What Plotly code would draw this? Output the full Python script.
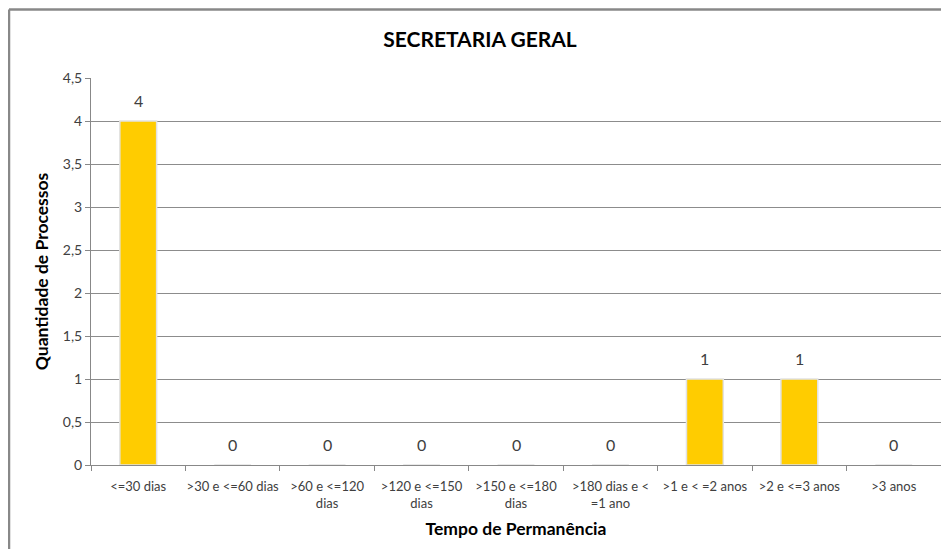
import plotly.graph_objects as go

categories = ["<=30 dias", ">30 e <=60 dias", ">60 e <=120<br>dias", ">120 e <=150<br>dias",
              ">150 e <=180<br>dias", ">180 dias e <<br>=1 ano", ">1 e < =2 anos",
              ">2 e <=3 anos", ">3 anos"]
values = [4, 0, 0, 0, 0, 0, 1, 1, 0]
y_ticks = [0, 0.5, 1, 1.5, 2, 2.5, 3, 3.5, 4, 4.5]
y_tick_labels = ["0", "0,5", "1", "1,5", "2", "2,5", "3", "3,5", "4", "4,5"]

FONT = "Lato"
# the page body adds an 8px offset; the figure is sized to fit the window exactly
W, H = 933, 541

fig = go.Figure(go.Bar(
    x=categories, y=values,
    marker=dict(color="#FFCC00", line=dict(color="#e2e2e2", width=1.5)),
    width=0.39,
))

for c, v in zip(categories, values):
    fig.add_annotation(x=c, y=v, text=str(v), showarrow=False, yshift=21,
                       font=dict(family=FONT, size=16, color="#404040"))

fig.update_layout(
    width=W, height=H,
    margin=dict(l=83, r=0, t=70, b=84),
    paper_bgcolor="white", plot_bgcolor="white",
    font=dict(family=FONT, color="#404040", size=13),
    title=dict(text="<b>SECRETARIA GERAL</b>", x=(480 - 8) / W, xref="container", xanchor="center",
               y=1 - 32/H, yanchor="middle",
               font=dict(family=FONT, size=21, color="black")),
    showlegend=False,
)
fig.update_xaxes(
    type="category", tickson="boundaries", ticks="outside", ticklen=5,
    tickcolor="#888888", showline=True, linecolor="#888888", linewidth=1,
    showgrid=False, automargin=False, ticklabelstandoff=9, tickangle=0,
    tickfont=dict(family=FONT, size=13, color="#404040"),
    title=dict(text="<b>Tempo de Permanência</b>", standoff=13,
               font=dict(family=FONT, size=17.5, color="black")),
)
fig.update_yaxes(
    range=[0, 4.5], tickvals=y_ticks, ticktext=y_tick_labels,
    ticks="outside", ticklen=5, tickcolor="#888888",
    showline=True, linecolor="#888888", linewidth=1, automargin=False,
    showgrid=True, gridcolor="#8c8c8c", gridwidth=1, zeroline=False,
    tickfont=dict(family=FONT, size=14, color="#404040"),
    title=dict(text="<b>Quantidade de Processos</b>", standoff=9,
               font=dict(family=FONT, size=17.5, color="black")),
)
# outer chart border: only its left and top edges are visible in the window
fig.add_shape(type="line", xref="paper", yref="paper",
              x0=(9 - 91) / 850, x1=(9 - 91) / 850, y0=-0.5, y1=(465 - 9.5) / 387,
              line=dict(color="#888888", width=2.5), layer="below")
fig.add_shape(type="line", xref="paper", yref="paper",
              x0=(9 - 91) / 850, x1=1.3, y0=(465 - 9.5) / 387, y1=(465 - 9.5) / 387,
              line=dict(color="#888888", width=2.5), layer="below")

fig.write_html("out.html",
               post_script="document.documentElement.style.overflow='hidden';")
